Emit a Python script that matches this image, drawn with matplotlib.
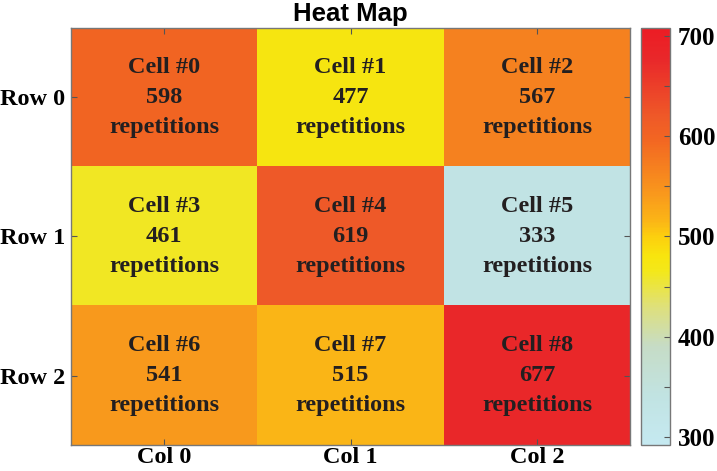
import numpy as np
import matplotlib
matplotlib.use("Agg")
from matplotlib import pyplot as plt
from matplotlib.colors import LinearSegmentedColormap, Normalize

rows = ["Row 0", "Row 1", "Row 2"]
cols = ["Col 0", "Col 1", "Col 2"]
counts = [[598, 477, 567],
          [461, 619, 333],
          [541, 515, 677]]
cbar_ticks = [300, 400, 500, 600, 700]

vmin, vmax = 292, 708
# colour anchors (value, colour)
anchors = [(292, "#c5e9f1"), (340, "#c1e3e2"), (390, "#c6dcc6"),
           (430, "#dfe07a"), (465, "#f3e81a"), (480, "#f8e50e"),
           (500, "#fccf0e"), (515, "#fbb616"), (541, "#f99a1c"),
           (567, "#f6821f"), (598, "#f26522"), (619, "#ef5a28"),
           (677, "#e9282a"), (708, "#ec1c24")]
cmap = LinearSegmentedColormap.from_list(
    "hm", [((v - vmin) / (vmax - vmin), c) for v, c in anchors])

fig = plt.figure(figsize=(7.17, 4.71), dpi=100)
ax = fig.add_axes([0.099, 0.055, 0.780, 0.886])
cax = fig.add_axes([0.894, 0.055, 0.040, 0.886])

data = np.array(counts)
im = ax.imshow(data, cmap=cmap, norm=Normalize(vmin, vmax), aspect="auto",
               interpolation="nearest")

serif = "Liberation Serif"
fs = 17.5
for i in range(3):
    for j in range(3):
        ax.text(j, i, "Cell #%d\n%d\nrepetitions" % (i * 3 + j, data[i, j]),
                ha="center", va="center", fontsize=fs, fontweight="bold",
                family=serif, color="#231f20", linespacing=1.55)

ax.set_xticks(range(3))
ax.set_xticklabels(cols, family=serif, fontweight="bold", fontsize=fs)
ax.set_yticks(range(3))
ax.set_yticklabels(rows, family=serif, fontweight="bold", fontsize=fs)
ax.tick_params(direction="in", length=4, top=True, right=True,
               color="#555555", width=0.8, pad=4)
ax.tick_params(axis="x", pad=1.5)
for s in ax.spines.values():
    s.set_color("#777777")
    s.set_linewidth(1.0)
ax.set_title("Heat Map", family="Liberation Sans", fontweight="bold",
             fontsize=18.5, pad=5)

cb = fig.colorbar(im, cax=cax)
cb.set_ticks(cbar_ticks)
cb.set_ticklabels([str(t) for t in cbar_ticks])
cax.set_yticks([350, 450, 550, 650], minor=True)
cax.tick_params(which="both", direction="in", length=4, color="#555555",
                width=0.8, pad=6)
for lab in cax.get_yticklabels():
    lab.set_family(serif)
    lab.set_fontweight("bold")
    lab.set_fontsize(18)
cb.outline.set_edgecolor("#777777")
cb.outline.set_linewidth(1.0)

fig.savefig("out.png", dpi=100)
